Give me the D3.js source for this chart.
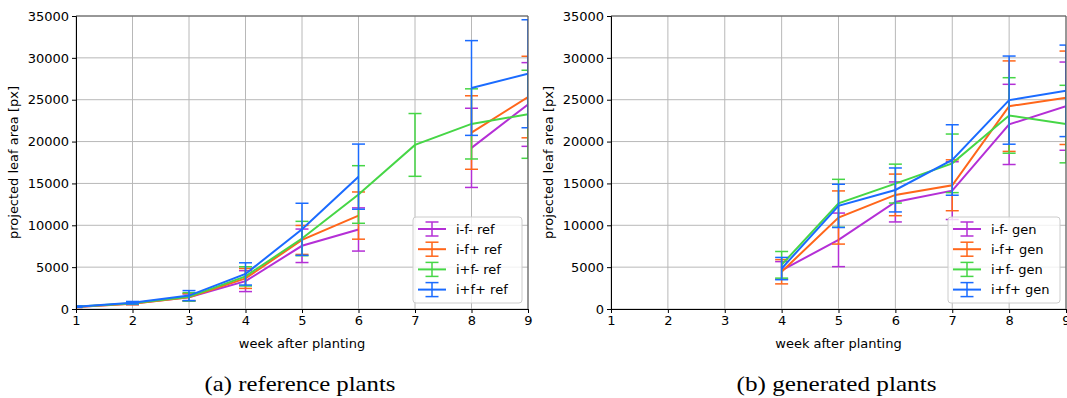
<!DOCTYPE html>
<html><head><meta charset="utf-8">
<script src="https://cdn.jsdelivr.net/npm/d3@7"></script>
<style>
html,body{margin:0;padding:0;background:#fff;}
svg{display:block;}
</style></head>
<body>
<svg id="chart" width="1067" height="398"></svg>
<script>
const weeks = [1, 2, 3, 4, 5, 6, 7, 8, 9];
const yTicks = [0, 5000, 10000, 15000, 20000, 25000, 30000, 35000];

// reference plants
const refPurple = [250, 650, 1400, 3330, 7550, 9500, null, 19250, 24430];
const refPurpleErr = [60, 120, 400, 1250, 2000, 2580, null, 4730, 5000];
const refOrange = [240, 640, 1400, 3650, 8250, 11160, null, 21080, 25320];
const refOrangeErr = [60, 130, 450, 1190, 1730, 2820, null, 4390, 4870];
const refGreen = [260, 700, 1450, 3900, 8420, 13680, 19600, 22110, 23260];
const refGreenErr = [60, 140, 500, 1150, 2050, 3440, 3750, 4190, 5260];
const refBlue = [280, 750, 1600, 4190, 9520, 15810, null, 26400, 28100];
const refBlueErr = [70, 150, 600, 1330, 3110, 3890, null, 5660, 6450];

// generated plants
const genPurple = [null, null, null, 4610, 8260, 12790, 14140, 22050, 24230];
const genPurpleErr = [null, null, null, 1050, 3200, 2390, 3450, 4790, 5270];
const genOrange = [null, null, null, 4450, 10930, 13630, 14780, 24230, 25230];
const genOrangeErr = [null, null, null, 1450, 3175, 2485, 3040, 5405, 5580];
const genGreen = [null, null, null, 5280, 12630, 14980, 17400, 23120, 22090];
const genGreenErr = [null, null, null, 1590, 2860, 2325, 3500, 4510, 4630];
const genBlue = [null, null, null, 4830, 12320, 14220, 17800, 24950, 26060];
const genBlueErr = [null, null, null, 1330, 2585, 2625, 4210, 5265, 5465];

const colors = ["#b42fd6", "#ff661a", "#46d646", "#1a6bff"];

const panels = [
  {left: 76, right: 528, top: 16, bottom: 309, caption: "(a) reference plants", capW: 191,
   labels: ["i-f- ref", "i-f+ ref", "i+f- ref", "i+f+ ref"],
   series: [[refPurple, refPurpleErr], [refOrange, refOrangeErr], [refGreen, refGreenErr], [refBlue, refBlueErr]]},
  {left: 611, right: 1066, top: 16, bottom: 309, caption: "(b) generated plants", capW: 200,
   labels: ["i-f- gen", "i-f+ gen", "i+f- gen", "i+f+ gen"],
   series: [[genPurple, genPurpleErr], [genOrange, genOrangeErr], [genGreen, genGreenErr], [genBlue, genBlueErr]]}
];

const svg = d3.select("#chart");
const FONT = "DejaVu Sans, sans-serif";

panels.forEach((p, pi) => {
  const x = d3.scaleLinear().domain([1, 9]).range([p.left, p.right]);
  const y = d3.scaleLinear().domain([0, 35000]).range([p.bottom, p.top]);
  const g = svg.append("g");
  const clipId = "clip" + pi;
  g.append("clipPath").attr("id", clipId).append("rect")
    .attr("x", p.left).attr("y", p.top).attr("width", p.right - p.left).attr("height", p.bottom - p.top);

  // grid
  g.append("g").selectAll("line.vg").data(weeks).join("line")
    .attr("x1", d => x(d)).attr("x2", d => x(d)).attr("y1", p.top).attr("y2", p.bottom)
    .attr("stroke", "#b8b8b8").attr("stroke-width", 1);
  g.append("g").selectAll("line.hg").data(yTicks).join("line")
    .attr("x1", p.left).attr("x2", p.right).attr("y1", d => y(d)).attr("y2", d => y(d))
    .attr("stroke", "#b8b8b8").attr("stroke-width", 1);

  // series
  const plot = g.append("g").attr("clip-path", `url(#${clipId})`);
  p.series.forEach(([vals, errs], si) => {
    const c = colors[si];
    const pts = weeks.map((w, i) => ({w, v: vals[i], e: errs[i]}));
    const line = d3.line().defined(d => d.v !== null).x(d => x(d.w)).y(d => y(d.v));
    plot.append("path").attr("d", line(pts)).attr("fill", "none")
      .attr("stroke", c).attr("stroke-width", 2);
    const eb = plot.append("g").attr("stroke", c).attr("stroke-width", 1.5);
    pts.filter(d => d.v !== null).forEach(d => {
      const cx = x(d.w), y1 = y(d.v + d.e), y0 = y(d.v - d.e);
      eb.append("line").attr("x1", cx).attr("x2", cx).attr("y1", y1).attr("y2", y0);
      eb.append("line").attr("x1", cx - 6.5).attr("x2", cx + 6.5).attr("y1", y1).attr("y2", y1);
      eb.append("line").attr("x1", cx - 6.5).attr("x2", cx + 6.5).attr("y1", y0).attr("y2", y0);
    });
  });

  // spines
  g.append("line").attr("x1", p.left).attr("x2", p.right).attr("y1", p.top).attr("y2", p.top).attr("stroke", "#555").attr("stroke-width", 1);
  g.append("line").attr("x1", p.right).attr("x2", p.right).attr("y1", p.top).attr("y2", p.bottom).attr("stroke", "#555").attr("stroke-width", 1);

  // axes
  const xAxis = d3.axisBottom(x).tickValues(weeks).tickFormat(d3.format("d")).tickSizeOuter(0).tickSize(4).tickPadding(3);
  const yAxis = d3.axisLeft(y).tickValues(yTicks).tickFormat(d3.format("d")).tickSizeOuter(0).tickSize(4).tickPadding(3);
  const gx = g.append("g").attr("transform", `translate(0,${p.bottom})`).call(xAxis);
  const gy = g.append("g").attr("transform", `translate(${p.left},0)`).call(yAxis);
  [gx, gy].forEach(a => {
    a.selectAll("text").attr("font-family", FONT).attr("font-size", 13).attr("fill", "#000");
    a.selectAll("line").attr("stroke", "#000");
    a.select(".domain").attr("stroke", "#000");
  });

  // axis labels
  g.append("text").attr("x", (p.left + p.right) / 2).attr("y", 348)
    .attr("text-anchor", "middle").attr("font-family", FONT).attr("font-size", 13).text("week after planting");
  g.append("text").attr("transform", `translate(${p.left - 58},${(p.top + p.bottom) / 2}) rotate(-90)`)
    .attr("text-anchor", "middle").attr("font-family", FONT).attr("font-size", 13).text("projected leaf area [px]");

  // caption
  g.append("text").attr("x", (p.left + p.right) / 2 - 2).attr("y", 391)
    .attr("text-anchor", "middle").attr("font-family", "Liberation Serif, serif").attr("font-size", 21)
    .attr("textLength", p.capW).attr("lengthAdjust", "spacingAndGlyphs").text(p.caption);

  // legend
  const lw = pi === 0 ? 109 : 112;
  const lx = p.right - 6 - lw, ly = 217;
  const lg = g.append("g");
  lg.append("rect").attr("x", lx).attr("y", ly).attr("width", lw).attr("height", 86)
    .attr("rx", 3).attr("fill", "#fff").attr("fill-opacity", 0.8).attr("stroke", "#cccccc");
  p.labels.forEach((lab, i) => {
    const yy = ly + 12 + i * 20.2;
    const c = colors[i];
    const x0 = lx + 5, x1 = lx + 33, xm = (x0 + x1) / 2;
    lg.append("line").attr("x1", x0).attr("x2", x1).attr("y1", yy).attr("y2", yy).attr("stroke", c).attr("stroke-width", 2);
    lg.append("line").attr("x1", xm).attr("x2", xm).attr("y1", yy - 7).attr("y2", yy + 7).attr("stroke", c).attr("stroke-width", 1.5);
    lg.append("line").attr("x1", xm - 6.5).attr("x2", xm + 6.5).attr("y1", yy - 7).attr("y2", yy - 7).attr("stroke", c).attr("stroke-width", 1.5);
    lg.append("line").attr("x1", xm - 6.5).attr("x2", xm + 6.5).attr("y1", yy + 7).attr("y2", yy + 7).attr("stroke", c).attr("stroke-width", 1.5);
    lg.append("text").attr("x", lx + 43).attr("y", yy + 4.5).attr("font-family", FONT).attr("font-size", 13).text(lab);
  });
});
</script>
</body></html>
